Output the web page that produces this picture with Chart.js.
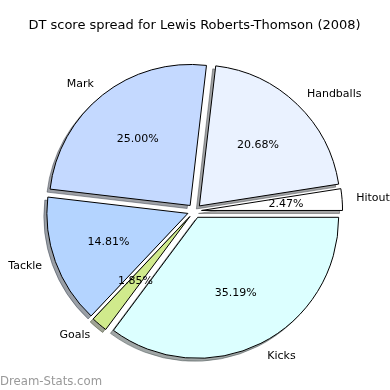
<!DOCTYPE html>
<html>
<head>
<meta charset="utf-8">
<script src="https://cdn.jsdelivr.net/npm/chart.js@4/dist/chart.umd.min.js"></script>
<style>
  html, body { margin: 0; padding: 0; background: #fff; }
  #wrap { width: 390px; height: 390px; }
</style>
</head>
<body>
<div id="wrap"><canvas id="myChart" width="390" height="390"></canvas></div>
<script>
// Slices, listed clockwise starting at 3 o'clock (same as the reference read backwards)
const categories = ['Kicks', 'Goals', 'Tackle', 'Mark', 'Handballs', 'Hitout'];
const shares = [35.19, 1.85, 14.81, 25.00, 20.68, 2.47];
const sliceColors = ['#dcffff', '#d0ea8c', '#b4d4ff', '#c4d9ff', '#eaf2ff', '#ffffff'];

const EXPLODE = 0.05;     // fraction of radius each wedge is pushed out
const SHADOW_DX = -3;
const SHADOW_DY = 3;
const FONT = "'DejaVu Sans', sans-serif";

// darker copy of a colour for the drop shadow
function shadowOf(hex) {
    const r = parseInt(hex.slice(1, 3), 16) * 0.3;
    const g = parseInt(hex.slice(3, 5), 16) * 0.3;
    const b = parseInt(hex.slice(5, 7), 16) * 0.3;
    return `rgba(${r}, ${g}, ${b}, 0.5)`;
}

function pushOut(arc) {
    const mid = (arc.startAngle + arc.endAngle) / 2;
    const d = arc.outerRadius * EXPLODE;
    return { mid: mid, dx: Math.cos(mid) * d, dy: Math.sin(mid) * d };
}

// draws shadows first, then the exploded wedges
const explodePlugin = {
    id: 'explode',
    beforeDatasetsDraw(chart) {
        const ctx = chart.ctx;
        const arcs = chart.getDatasetMeta(0).data;

        arcs.forEach(function(arc, i) {
            const p = pushOut(arc);
            const shade = shadowOf(sliceColors[i]);
            const saved = arc.options;
            arc.options = Object.assign({}, saved, { backgroundColor: shade, borderColor: shade });
            ctx.save();
            ctx.translate(p.dx + SHADOW_DX, p.dy + SHADOW_DY);
            arc.draw(ctx);
            ctx.restore();
            arc.options = saved;
        });

        arcs.forEach(function(arc) {
            const p = pushOut(arc);
            ctx.save();
            ctx.translate(p.dx, p.dy);
            arc.draw(ctx);
            ctx.restore();
        });
        return false;
    },
    afterDraw(chart) {
        const ctx = chart.ctx;
        const arcs = chart.getDatasetMeta(0).data;
        const total = shares.reduce((s, v) => s + v, 0);

        ctx.save();
        ctx.font = '11px ' + FONT;
        ctx.fillStyle = '#000';
        ctx.textBaseline = 'middle';
        arcs.forEach(function(arc, i) {
            const p = pushOut(arc);
            const cx = arc.x + p.dx;
            const cy = arc.y + p.dy;
            const r = arc.outerRadius;

            // percentage inside
            ctx.textAlign = 'center';
            const pct = (shares[i] / total * 100).toFixed(2) + '%';
            ctx.fillText(pct, cx + Math.cos(p.mid) * r * 0.6, cy + Math.sin(p.mid) * r * 0.6);

            // category outside
            const lx = cx + Math.cos(p.mid) * r * 1.1;
            const ly = cy + Math.sin(p.mid) * r * 1.1;
            ctx.textAlign = Math.cos(p.mid) > 0 ? 'left' : 'right';
            ctx.fillText(categories[i], lx, ly);
        });

        // watermark
        ctx.font = '11.7px ' + FONT;
        ctx.fillStyle = '#999';
        ctx.textAlign = 'left';
        ctx.textBaseline = 'alphabetic';
        ctx.fillText('Dream-Stats.com', 0, 385);
        ctx.restore();
    }
};

const ctx = document.getElementById('myChart').getContext('2d');
const myChart = new Chart(ctx, {
    type: 'pie',
    data: {
        labels: categories,
        datasets: [{
            data: shares,
            backgroundColor: sliceColors,
            borderColor: '#000',
            borderWidth: 1,
            radius: 141,
            rotation: 90
        }]
    },
    options: {
        responsive: false,
        animation: false,
        events: [],
        layout: {
            padding: { left: 0, right: 1, top: 0, bottom: 9.3 }
        },
        plugins: {
            legend: { display: false },
            tooltip: { enabled: false },
            title: {
                display: true,
                text: 'DT score spread for Lewis Roberts-Thomson (2008)',
                color: '#000',
                font: { family: FONT, size: 13, weight: 'normal' },
                padding: { top: 17.7, bottom: 8 }
            }
        }
    },
    plugins: [explodePlugin]
});
</script>
</body>
</html>
